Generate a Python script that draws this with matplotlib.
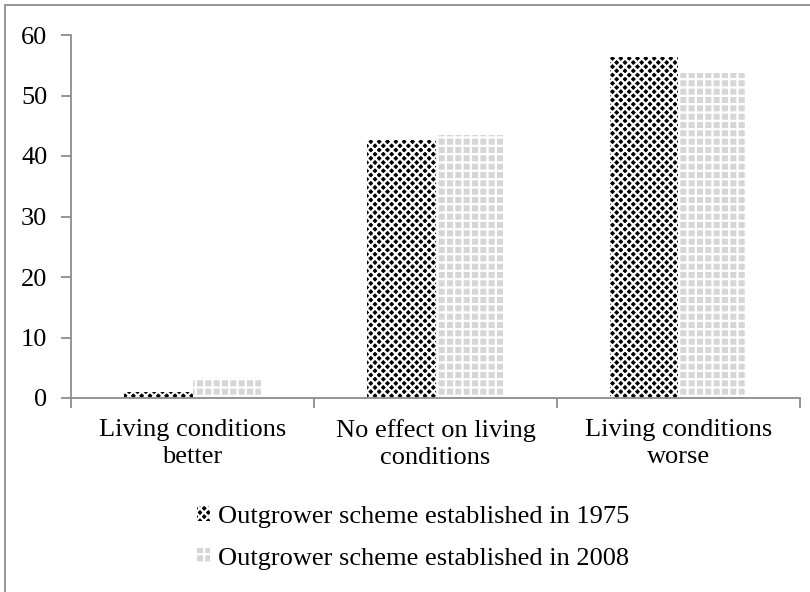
import numpy as np
import matplotlib
matplotlib.use("Agg")
import matplotlib.pyplot as plt
from matplotlib.patches import Rectangle

categories = ["Living conditions\nbetter", "No effect on living\nconditions", "Living conditions\nworse"]
series_names = ["Outgrower scheme established in 1975", "Outgrower scheme established in 2008"]
values_1975 = [1.0, 42.7, 56.4]
values_2008 = [3.1, 43.4, 53.7]
y_ticks = [0, 10, 20, 30, 40, 50, 60]

plt.rcParams['font.family'] = ['Liberation Serif', 'DejaVu Serif']
plt.rcParams['hatch.linewidth'] = 1.6

fig = plt.figure(figsize=(8.1, 5.92), dpi=100)
ax = fig.add_axes([71/810, 1 - 398/592, (800 - 71)/810, (398 - 35)/592])

x = np.arange(len(categories))
w = 0.28
grey = "#8c8c8c"
fs = 19

b1 = ax.bar(x - w/2, values_1975, w, color="black", edgecolor="white", hatch="xxxx",
            linewidth=0, label=series_names[0])
b2 = ax.bar(x + w/2, values_2008, w, color="#d6d6d6", edgecolor="white", hatch="++",
            linewidth=0, label=series_names[1])

ax.set_xlim(-0.5, len(categories) - 0.5)
ax.set_ylim(0, 60)
ax.set_yticks(y_ticks)
ax.set_xticks(x)
ax.set_xticklabels(categories, fontsize=fs, linespacing=1.33)
ax.set_xticks(np.arange(-0.5, len(categories)), minor=True)
ax.tick_params(axis='x', which='major', length=0, pad=15)
ax.tick_params(axis='x', which='minor', length=7, color=grey, width=1.3)
ax.tick_params(axis='y', length=7, color=grey, width=1.3, labelsize=fs, pad=10)

for s in ["top", "right"]:
    ax.spines[s].set_visible(False)
for s in ["left", "bottom"]:
    ax.spines[s].set_color(grey)
    ax.spines[s].set_linewidth(1.3)

leg = fig.legend(handles=[b1, b2], loc="center", bbox_to_anchor=(413/810, 1 - 538/592),
                 ncol=1, frameon=False, fontsize=fs, handlelength=0.5, handleheight=0.5,
                 handletextpad=0.3, labelspacing=0.78)

# outer chart border (cropped at right and bottom)
fig.patches.append(Rectangle((5/810, -0.1), 1.2, 1.1 - 5/592, transform=fig.transFigure,
                             fill=False, edgecolor=grey, linewidth=1.3))

fig.savefig("out.png", dpi=100)
